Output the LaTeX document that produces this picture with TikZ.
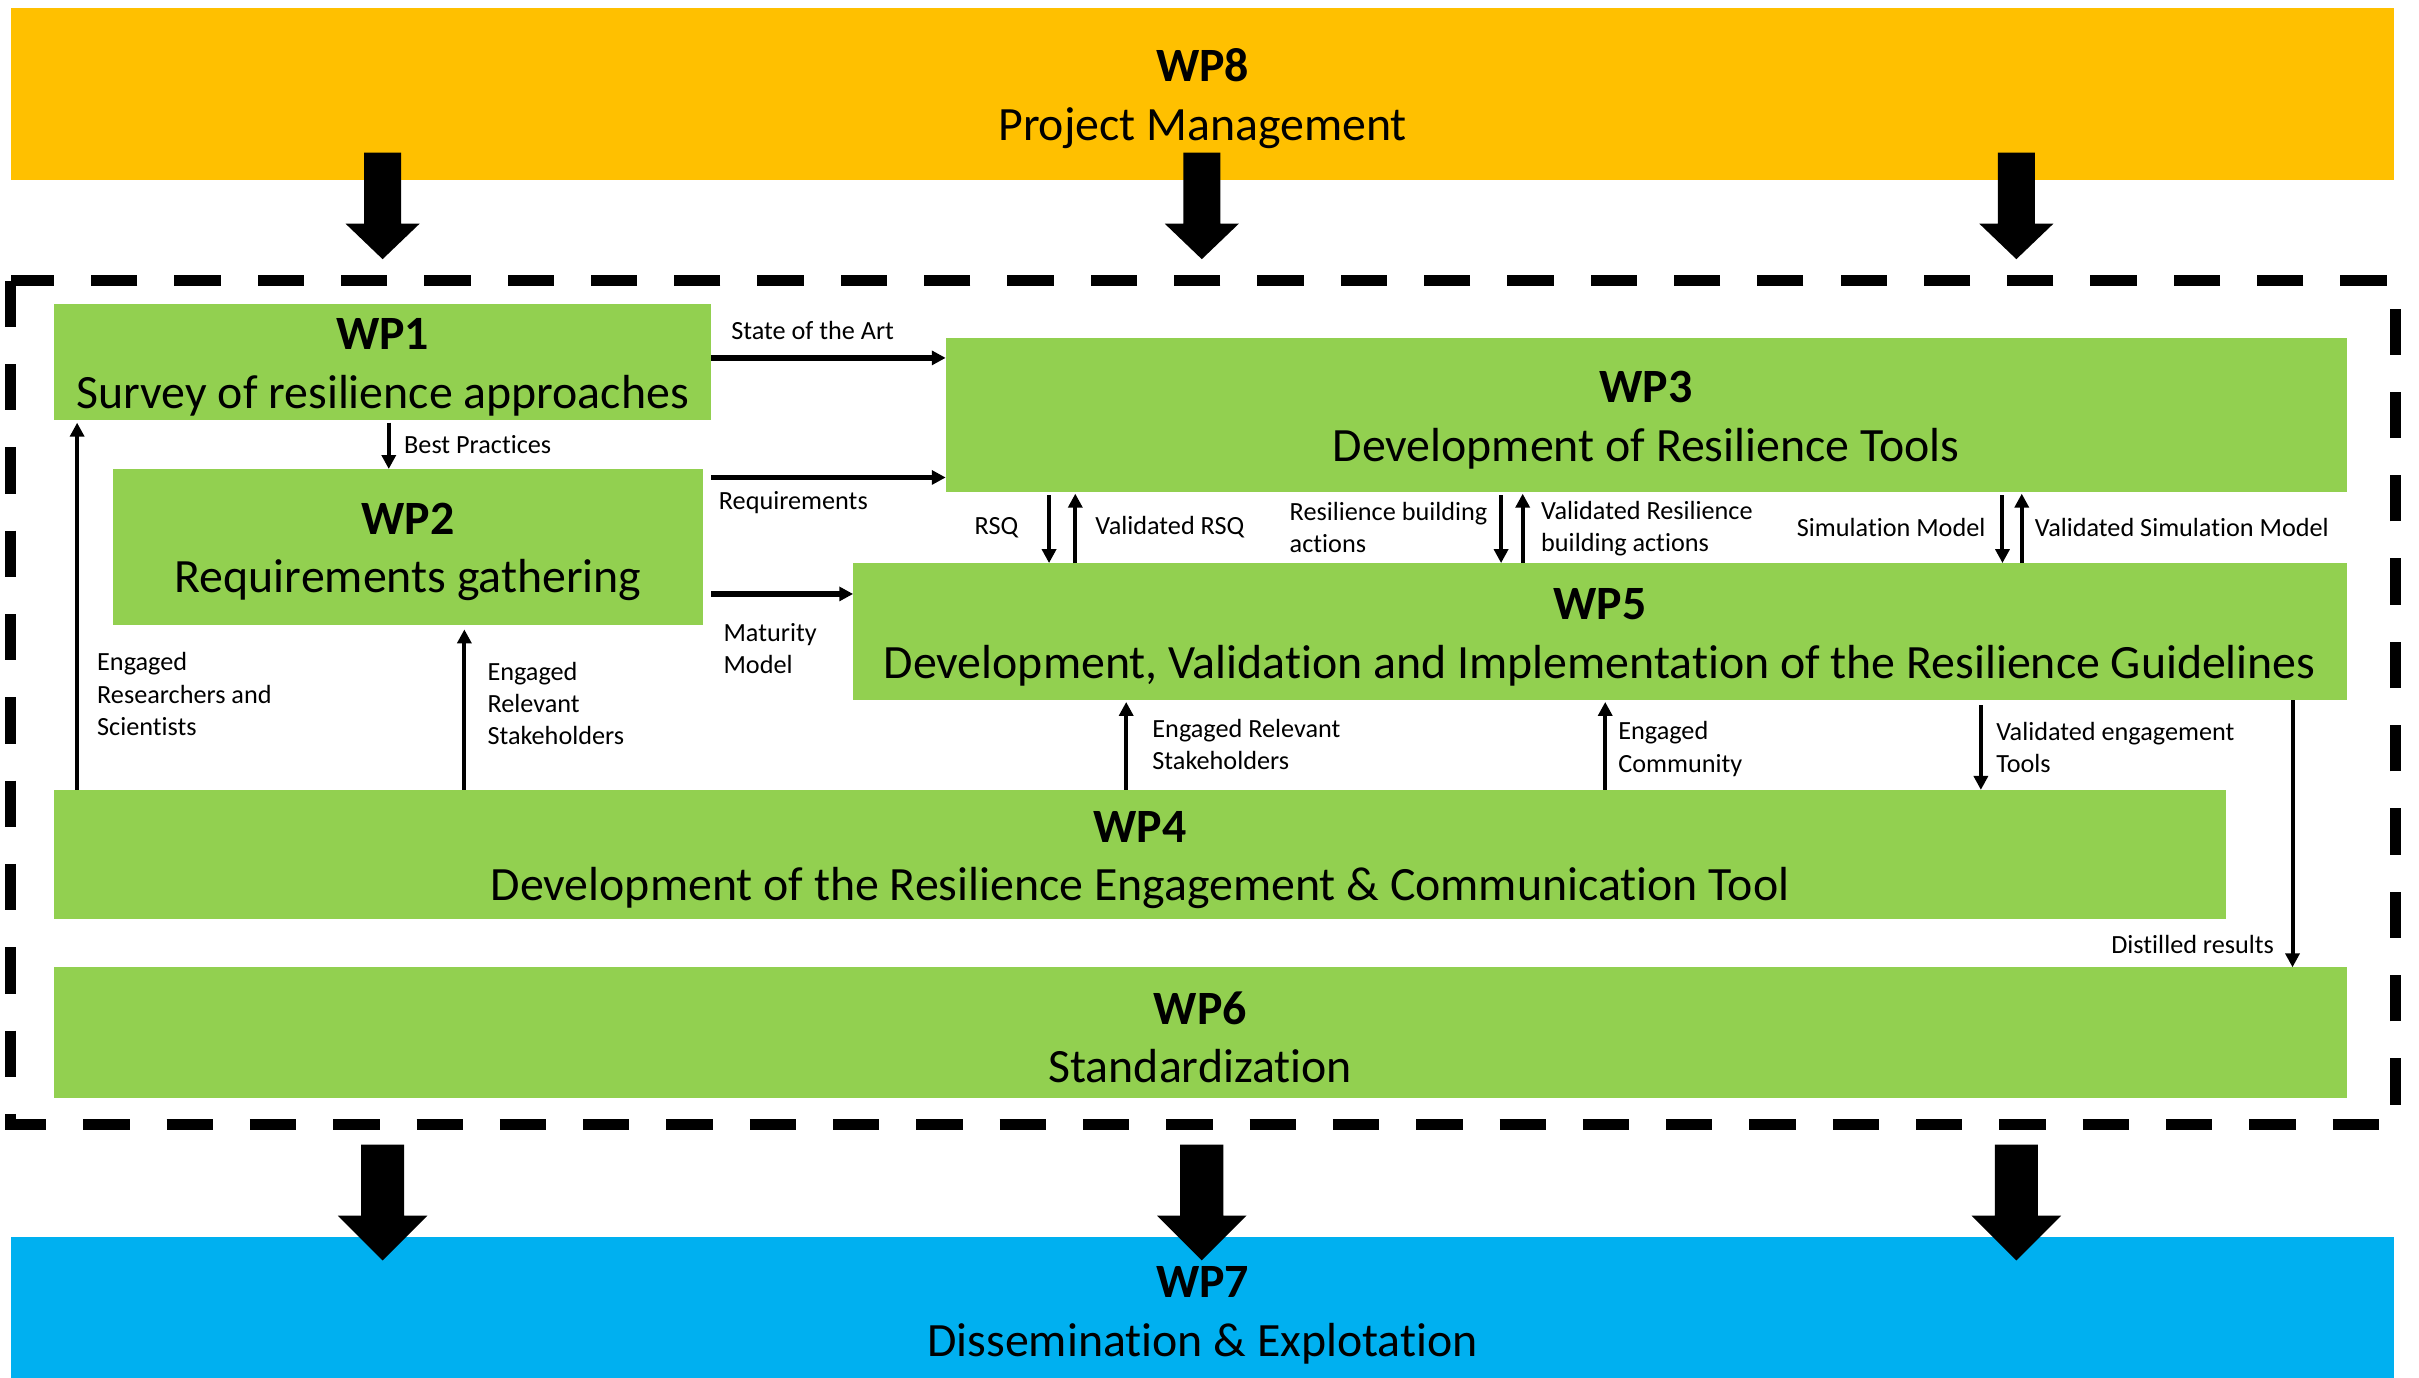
\documentclass[tikz,border=0pt]{standalone}
\usepackage{fontspec}
\setmainfont{Carlito}[Ligatures=NoCommon]
\usetikzlibrary{arrows.meta,calc}
\definecolor{wpgreen}{HTML}{92D050}
\definecolor{wporange}{HTML}{FFC000}
\definecolor{wpblue}{HTML}{00B0F0}
\newcommand\wptitle[1]{\rule{0pt}{27pt}\textbf{#1}}
\begin{document}
\begin{tikzpicture}[x=1pt,y=-1pt,
  box/.style={fill=wpgreen, draw=none, inner sep=0pt, outer sep=0pt, anchor=north west, align=center, font=\fontsize{31}{38}\selectfont},
  lbl/.style={inner sep=0pt, outer sep=0pt, align=left, font=\fontsize{17}{21}\selectfont},
  arr/.style={-{Triangle[length=9pt,width=9pt]}, line width=2.6pt},
  harr/.style={arr, line width=3.8pt},
]
\useasboundingbox[fill=white] (0,0) rectangle (1568,893);

% dashed frame
\draw[line width=7pt, dash pattern=on 30pt off 24pt] (7,182) rectangle (1553,729);

% boxes
\node[box, fill=wporange, minimum width=1545pt, minimum height=112pt] (wp8) at (7,5) {\wptitle{WP8}\\Project Management};
\node[box, minimum width=426pt, minimum height=75pt] (wp1) at (35,197) {\wptitle{WP1}\\Survey of resilience approaches};
\node[box, minimum width=908pt, minimum height=100pt] (wp3) at (613,219) {\wptitle{WP3}\\Development of Resilience Tools};
\node[box, minimum width=383pt, minimum height=101pt] (wp2) at (73,304) {\wptitle{WP2}\\Requirements gathering};
\node[box, minimum width=968pt, minimum height=89pt] (wp5) at (553,365) {\wptitle{WP5}\\Development, Validation and Implementation of the Resilience Guidelines};
\node[box, minimum width=1408pt, minimum height=84pt] (wp4) at (35,512) {\wptitle{WP4}\\Development of the Resilience Engagement \& Communication Tool};
\node[box, minimum width=1486pt, minimum height=85pt] (wp6) at (35,627) {\wptitle{WP6}\\Standardization};
\node[box, fill=wpblue, minimum width=1545pt, minimum height=94pt] (wp7) at (7,802) {\wptitle{WP7}\\Dissemination \& Explotation};

% big arrows
\foreach \x in {248,779,1307}{
  \fill (\x-12,99) -- (\x+12,99) -- (\x+12,145) -- (\x+24,145) -- (\x,168) -- (\x-24,145) -- (\x-12,145) -- cycle;
  \fill (\x-14,742) -- (\x+14,742) -- (\x+14,788) -- (\x+29,788) -- (\x,817) -- (\x-29,788) -- (\x-14,788) -- cycle;
}

% x positions
\coordinate (xbp) at (252,0);
\coordinate (xa) at (680,0);
\coordinate (xb) at (697,0);
\coordinate (xc) at (973,0);
\coordinate (xd) at (987,0);
\coordinate (xe) at (1298,0);
\coordinate (xf) at (1310.5,0);
\coordinate (xg) at (50,0);
\coordinate (xh) at (301,0);
\coordinate (xi) at (730,0);
\coordinate (xj) at (1040.5,0);
\coordinate (xk) at (1284,0);
\coordinate (xl) at (1486,0);
\coordinate (r2) at (461,309.5);
\coordinate (r3) at (461,385);

% connectors
\draw[harr] ([yshift=2.5pt]wp1.east) -- ([yshift=2.5pt]wp1.east -| wp3.west);
\draw[arr, shorten <=2pt] (wp1.south -| xbp) -- (wp2.north -| xbp);
\draw[harr] (r2) -- (r2 -| wp3.west);
\draw[harr] (r3) -- (r3 -| wp5.west);
\draw[arr, shorten <=2pt] (wp3.south -| xa) -- (wp5.north -| xa);
\draw[arr, shorten >=1pt] (wp5.north -| xb) -- (wp3.south -| xb);
\draw[arr, shorten <=2pt] (wp3.south -| xc) -- (wp5.north -| xc);
\draw[arr, shorten >=1pt] (wp5.north -| xd) -- (wp3.south -| xd);
\draw[arr, shorten <=2pt] (wp3.south -| xe) -- (wp5.north -| xe);
\draw[arr, shorten >=1pt] (wp5.north -| xf) -- (wp3.south -| xf);
\draw[arr, shorten >=2pt] (wp4.north -| xg) -- (wp1.south -| xg);
\draw[arr, shorten >=3pt] (wp4.north -| xh) -- (wp2.south -| xh);
\draw[arr, shorten >=1pt] (wp4.north -| xi) -- (wp5.south -| xi);
\draw[arr, shorten >=1pt] (wp4.north -| xj) -- (wp5.south -| xj);
\draw[arr, shorten <=3pt] (wp5.south -| xk) -- (wp4.north -| xk);
\draw[arr] (wp5.south -| xl) -- (wp6.north -| xl);

% labels
\node[lbl, anchor=west] (l1) at (474,214) {State of the Art};
\node[lbl, anchor=west] (l2) at (262,288) {Best Practices};
\node[lbl, anchor=west] (l3) at (466,326) {Requirements};
\node[lbl, anchor=west] (l4) at (469,420.5) {Maturity\\Model};
\node[lbl, anchor=east] (l5) at (660,342) {RSQ};
\node[lbl, anchor=west] (l6) at (710,342) {Validated RSQ};
\node[lbl, anchor=west] (l7) at (836,342) {Resilience building\\actions};
\node[lbl, anchor=west] (l8) at (999,342.5) {Validated Resilience\\building actions};
\node[lbl, anchor=east] (l9) at (1287,342) {Simulation Model};
\node[lbl, anchor=west] (l10) at (1319,342) {Validated Simulation Model};
\node[lbl, anchor=west] (l11) at (63,450) {Engaged\\Researchers and\\Scientists};
\node[lbl, anchor=west] (l12) at (316,456) {Engaged\\Relevant\\Stakeholders};
\node[lbl, anchor=west] (l13) at (747,482.5) {Engaged Relevant\\Stakeholders};
\node[lbl, anchor=west] (l14) at (1049,485.5) {Engaged\\Community};
\node[lbl, anchor=west] (l15) at (1294,484.5) {Validated engagement\\Tools};
\node[lbl, anchor=east] (l16) at (1474,612) {Distilled results};
\end{tikzpicture}
\end{document}
